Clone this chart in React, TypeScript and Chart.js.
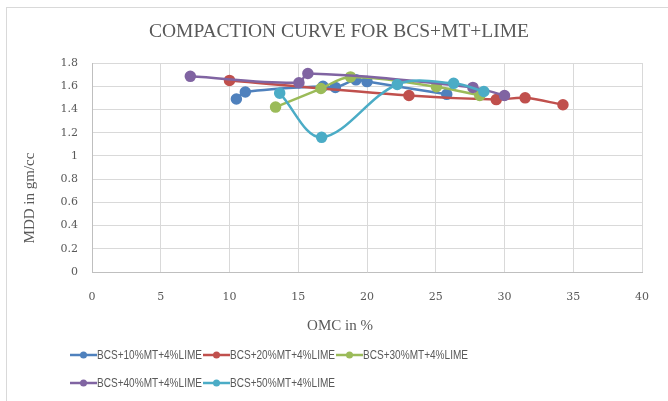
import React, { useEffect, useRef } from "react";
import { Chart, registerables } from "chart.js";

Chart.register(...registerables);

const seriesNames = [
  "BCS+10%MT+4%LIME",
  "BCS+20%MT+4%LIME",
  "BCS+30%MT+4%LIME",
  "BCS+40%MT+4%LIME",
  "BCS+50%MT+4%LIME",
];
const seriesColors = ["#4F81BD", "#C0504D", "#9BBB59", "#8064A2", "#4BACC6"];

const omc10 = [10.5, 11.15, 16.8, 17.7, 19.2, 20.0, 25.8];
const mdd10 = [1.49, 1.55, 1.6, 1.59, 1.655, 1.64, 1.53];
const omc20 = [10.0, 23.05, 29.4, 31.5, 34.25];
const mdd20 = [1.65, 1.52, 1.485, 1.5, 1.44];
const omc30 = [13.35, 16.65, 18.8, 25.05, 28.2];
const mdd30 = [1.42, 1.58, 1.68, 1.595, 1.52];
const omc40 = [7.15, 15.05, 15.7, 27.7, 30.0];
const mdd40 = [1.685, 1.63, 1.71, 1.59, 1.52];
const omc50 = [13.65, 16.7, 22.2, 26.3, 28.5];
const mdd50 = [1.54, 1.16, 1.615, 1.625, 1.555];

const omcSets = [omc10, omc20, omc30, omc40, omc50];
const mddSets = [mdd10, mdd20, mdd30, mdd40, mdd50];

const xTitle = "OMC in %";
const yTitle = "MDD in gm/cc";
const chartTitle = "COMPACTION CURVE FOR BCS+MT+LIME";

const textColor = "#595959";
const serif = "'Liberation Serif', 'Times New Roman', serif";
const legendFont = "13px 'Liberation Sans', Arial, sans-serif";
const legendTextWidth = 105;

const excelDecor = {
  id: "excelDecor",
  afterDraw(chart: any) {
    const ctx = chart.ctx;
    ctx.save();
    ctx.fillStyle = textColor;
    ctx.textAlign = "center";
    ctx.textBaseline = "middle";
    // chart title
    ctx.font = `19.5px ${serif}`;
    ctx.fillText(chartTitle, 339, 32);
    // axis titles
    ctx.font = `15px ${serif}`;
    ctx.fillText(xTitle, 340, 326);
    ctx.save();
    ctx.translate(30, 198);
    ctx.rotate(-Math.PI / 2);
    ctx.fillText(yTitle, 0, 0);
    ctx.restore();

    // legend
    const ds = chart.data.datasets;
    const startX = 70;
    const rowsY = [355, 383];
    const perRow = 3;
    const lineLen = 27;
    ctx.font = legendFont;
    ctx.textAlign = "left";
    let x = startX;
    for (let i = 0; i < ds.length; i++) {
      const row = Math.floor(i / perRow);
      if (i % perRow === 0) x = startX;
      const y = rowsY[row];
      const c = ds[i].borderColor;
      ctx.strokeStyle = c;
      ctx.lineWidth = 2.5;
      ctx.beginPath();
      ctx.moveTo(x, y);
      ctx.lineTo(x + lineLen, y);
      ctx.stroke();
      ctx.fillStyle = c;
      ctx.beginPath();
      ctx.arc(x + lineLen / 2, y, 3.5, 0, Math.PI * 2);
      ctx.fill();
      ctx.fillStyle = textColor;
      const w = ctx.measureText(ds[i].label).width;
      const k = Math.min(1, legendTextWidth / w);
      ctx.save();
      ctx.translate(x + lineLen, y);
      ctx.scale(k, 1);
      ctx.fillText(ds[i].label, 0, 0);
      ctx.restore();
      x += lineLen + w * k + 1;
    }
    ctx.restore();
  },
};

export default function App() {
  const ref = useRef<HTMLCanvasElement>(null);
  useEffect(() => {
    if (!ref.current) return;
    const datasets = seriesNames.map((name, i) => ({
      label: name,
      data: omcSets[i].map((x, j) => ({ x, y: mddSets[i][j] })),
      borderColor: seriesColors[i],
      backgroundColor: seriesColors[i],
      pointBackgroundColor: seriesColors[i],
      pointBorderColor: seriesColors[i],
      pointRadius: 4.5,
      borderWidth: 2.5,
      showLine: true,
      tension: 0.35,
      order: seriesNames.length - 1 - i,
    }));
    const chart = new Chart(ref.current, {
      type: "scatter",
      data: { datasets },
      plugins: [excelDecor],
      options: {
        animation: false,
        responsive: false,
        maintainAspectRatio: false,
        layout: { padding: { left: 0, right: 23, top: 63, bottom: 63 } },
        plugins: {
          legend: { display: false },
          tooltip: { enabled: false },
          title: { display: false },
        },
        scales: {
          x: {
            type: "linear",
            min: 0,
            max: 40,
            ticks: {
              stepSize: 5,
              color: textColor,
              padding: 19,
              font: { family: "'DejaVu Serif', serif", size: 11 },
            },
            grid: { color: "#d9d9d9", drawTicks: false, lineWidth: 1 },
            border: { color: "#bfbfbf" },
            afterFit: (s: any) => {
              s.height = 66;
            },
          },
          y: {
            type: "linear",
            min: 0,
            max: 1.8,
            ticks: {
              stepSize: 0.2,
              color: textColor,
              padding: 14,
              font: { family: "'DejaVu Serif', serif", size: 11 },
              callback: (v: any) => String(Number(Number(v).toFixed(1))),
            },
            grid: { color: "#d9d9d9", drawTicks: false, lineWidth: 1 },
            border: { color: "#bfbfbf" },
            afterFit: (s: any) => {
              s.width = 92;
            },
          },
        },
      },
    });
    return () => chart.destroy();
  }, []);
  return (
    <div
      style={{
        position: "fixed",
        left: 0,
        top: 0,
        width: 668,
        height: 401,
        overflow: "hidden",
        background: "#fff",
      }}
    >
      <div
        style={{
          position: "absolute",
          left: 6,
          top: 7,
          width: 800,
          height: 600,
          border: "1px solid #d9d9d9",
          boxSizing: "border-box",
        }}
      />
      <canvas
        ref={ref}
        width={668}
        height={401}
        style={{ position: "absolute", left: 0, top: 0, width: 668, height: 401 }}
      />
    </div>
  );
}
